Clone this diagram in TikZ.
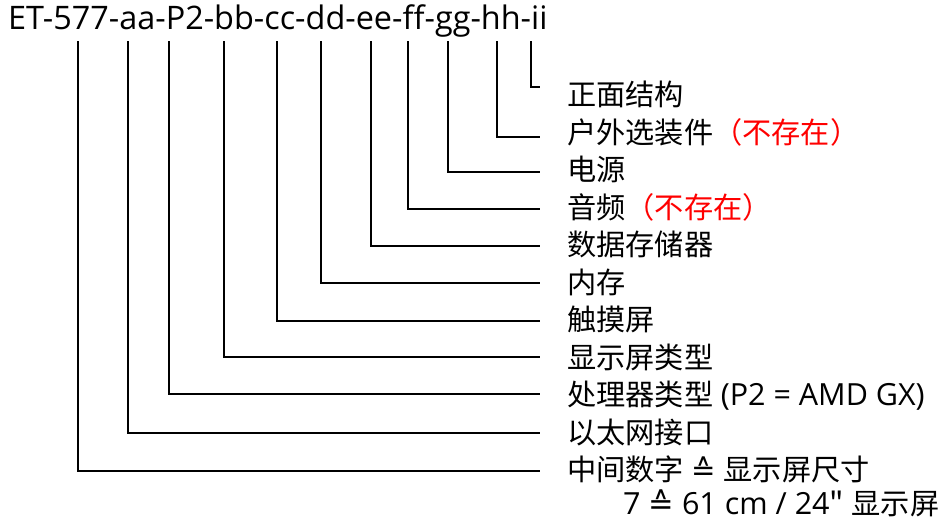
\documentclass[tikz,border=0pt]{standalone}
\usepackage{fontspec}
\setmainfont{Open Sans}
\newfontfamily\cjk{Noto Sans CJK SC}
\newfontfamily\symf{DejaVu Sans}
\definecolor{lred}{RGB}{255,0,0}
\newcommand\lat[1]{{\fontsize{30.5}{32}\selectfont #1}}
\begin{document}
\begin{tikzpicture}[x=1pt,y=-1pt,
  lbl/.style={anchor=base west,inner sep=0pt,font=\fontsize{29.2}{31}\selectfont},
  conn/.style={line width=1.5pt}]
\useasboundingbox (0,0) rectangle (950,522);
\node[anchor=base west,inner sep=0pt,font=\fontsize{32.4}{34}\selectfont] (code) at (8,29.5) {ET-577-aa-P2-bb-cc-dd-ee-ff-gg-hh-ii};
% labels (baseline = centre + 10.5)
\node[lbl] (l0) at (567,105.5) {\cjk 正面结构};
\node[lbl] (l1) at (567,143) {\cjk 户外选装件\textcolor{lred}{（不存在）}};
\node[lbl] (l2) at (567,180.5) {\cjk 电源};
\node[lbl] (l3) at (567,218) {\cjk 音频\textcolor{lred}{（不存在）}};
\node[lbl] (l4) at (567,255.5) {\cjk 数据存储器};
\node[lbl] (l5) at (567,293) {\cjk 内存};
\node[lbl] (l6) at (567,330.5) {\cjk 触摸屏};
\node[lbl] (l7) at (567,368) {\cjk 显示屏类型};
\node[lbl] (l8) at (567,405.5) {{\cjk 处理器类型} \lat{(P2 = AMD GX)}};
\node[lbl] (l9) at (567,443) {\cjk 以太网接口};
\node[lbl] (l10) at (567,480.5) {{\cjk 中间数字} {\symf ≙} {\cjk 显示屏尺寸}};
\node[lbl] (l11) at (623,514.5) {\lat{7 {\symf ≙} 61 cm / 24{\cjk "}} {\cjk 显示屏}};
% connector start points (under the code) and end points
\foreach \n/\x/\y in {0/531/87,1/497/137,2/448/172,3/408/209,4/371/246,5/321/283,6/277/321,7/224/357,8/169/394,9/128/433,10/78/471}{
  \coordinate (t\n) at (\x,41);
  \coordinate (h\n) at (540,\y);
  \draw[conn] (t\n) |- (h\n);
}
\end{tikzpicture}
\end{document}
